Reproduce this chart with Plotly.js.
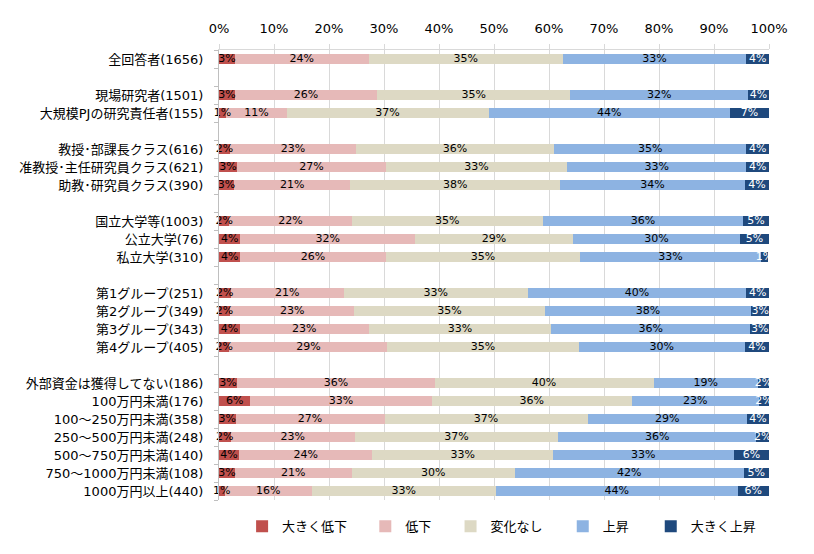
<!DOCTYPE html>
<html>
<head>
<meta charset="utf-8">
<script src="https://cdn.plot.ly/plotly-3.0.1.min.js"></script>
<style>html,body{margin:0;padding:0;background:#fff;}#chart{width:814px;height:554px;}</style>
</head>
<body>
<div id="chart"></div>
<script>
// Category groups (a blank row separates each group)
const groups = [
  ['全回答者(1656)'],
  ['現場研究者(1501)', '大規模PJの研究責任者(155)'],
  ['教授･部課長クラス(616)', '准教授･主任研究員クラス(621)', '助教･研究員クラス(390)'],
  ['国立大学等(1003)', '公立大学(76)', '私立大学(310)'],
  ['第1グループ(251)', '第2グループ(349)', '第3グループ(343)', '第4グループ(405)'],
  ['外部資金は獲得してない(186)', '100万円未満(176)', '100～250万円未満(358)', '250～500万円未満(248)',
   '500～750万円未満(140)', '750～1000万円未満(108)', '1000万円以上(440)']
];

const seriesNames = ['大きく低下', '低下', '変化なし', '上昇', '大きく上昇'];

// Values (%) per category, in the order of the flattened groups
const bigDown = [2.9, 2.9, 1.3, 2.0, 3.3, 2.7, 1.9, 3.9, 3.9, 2.1, 2.0, 3.8, 1.9, 3.3, 5.7, 3.0, 2.1, 3.6, 2.9, 1.0];
const down    = [24.3, 25.8, 11.0, 22.9, 27.0, 21.2, 22.2, 31.7, 26.4, 20.6, 22.6, 23.4, 28.7, 35.9, 33.0, 27.1, 22.6, 24.3, 21.2, 15.9];
const noChange= [35.3, 35.2, 36.7, 36.0, 33.0, 38.1, 34.8, 28.8, 35.4, 33.4, 34.6, 33.2, 34.8, 39.8, 36.3, 36.9, 37.0, 32.8, 29.7, 33.4];
const up      = [33.4, 32.3, 43.9, 35.0, 32.6, 33.6, 36.4, 30.3, 32.8, 39.8, 37.6, 36.2, 30.2, 19.0, 23.2, 29.0, 36.0, 32.9, 41.6, 44.0];
const bigUp   = [4.1, 3.8, 7.1, 4.1, 4.1, 4.4, 4.7, 5.3, 1.4, 4.1, 3.2, 3.4, 4.4, 2.0, 1.8, 4.0, 2.3, 6.4, 4.6, 5.7];

const xTickVals = [0, 10, 20, 30, 40, 50, 60, 70, 80, 90, 100];

const colors = ['#C0504D', '#E6B9B8', '#DDD9C4', '#8DB3E2', '#1F497D'];
const textColors = ['#000000', '#000000', '#000000', '#000000', '#FFFFFF'];
const legendX = [0.042, 0.266, 0.421, 0.625, 0.785];

// Build row positions with a blank row between groups
const categories = [];
const positions = [];
let pos = 0;
groups.forEach((g, gi) => {
  if (gi > 0) pos += 1;
  g.forEach(c => { categories.push(c); positions.push(pos); pos += 1; });
});
const nRows = pos;

const seriesValues = [bigDown, down, noChange, up, bigUp];
const cjkFont = '"Noto Sans CJK JP", "Noto Sans", sans-serif';
const mixFont = '"DejaVu Sans", "Noto Sans CJK JP", sans-serif';

const legendKeys = ['legend', 'legend2', 'legend3', 'legend4', 'legend5'];

const barTraces = seriesValues.map((vals, i) => ({
  type: 'bar',
  orientation: 'h',
  name: seriesNames[i],
  legend: legendKeys[i],
  x: vals,
  y: positions,
  marker: {color: colors[i], line: {width: 0}},
  textposition: 'none',
  hoverinfo: 'skip'
}));

// Segment labels, centred on each stacked segment
const labelTraces = seriesValues.map((vals, i) => {
  const mids = vals.map((v, j) => {
    let start = 0;
    for (let k = 0; k < i; k++) start += seriesValues[k][j];
    return start + v / 2;
  });
  return {
    type: 'scatter',
    mode: 'text',
    x: mids,
    y: positions,
    text: vals.map(v => Math.round(v) + '%'),
    textposition: 'middle center',
    textfont: {family: mixFont, size: 11, color: textColors[i]},
    showlegend: false,
    hoverinfo: 'skip',
    cliponaxis: false
  };
});

const layout = {
  width: 814,
  height: 554,
  margin: {l: 219, r: 45, t: 50, b: 54},
  paper_bgcolor: '#ffffff',
  plot_bgcolor: '#ffffff',
  barmode: 'stack',
  bargap: 0.42,
  font: {family: cjkFont, size: 13, color: '#000000'},
  showlegend: true,
  xaxis: {
    side: 'top',
    range: [0, 100],
    tickmode: 'array',
    tickvals: xTickVals,
    ticktext: xTickVals.map(v => v + '%'),
    showgrid: true,
    gridcolor: '#D9D9D9',
    gridwidth: 1,
    zeroline: false,
    showline: true,
    linecolor: '#D9D9D9',
    ticks: 'outside',
    ticklen: 5,
    tickcolor: '#D9D9D9',
    ticklabelstandoff: 6,
    tickfont: {family: mixFont, size: 13, color: '#000000'},
    fixedrange: true
  },
  yaxis: {
    range: [nRows - 0.5, -0.5],
    tickmode: 'array',
    tickvals: positions,
    ticktext: categories,
    showgrid: false,
    zeroline: false,
    showline: true,
    linecolor: '#BFBFBF',
    ticks: '',
    ticklabelstandoff: 12,
    tickfont: {family: mixFont, size: 13, color: '#000000'},
    minor: {tick0: -0.5, dtick: 1, ticks: 'outside', ticklen: 4, tickcolor: '#BFBFBF', showgrid: false},
    fixedrange: true
  }
};

legendKeys.forEach((k, i) => {
  layout[k] = {
    orientation: 'h',
    x: legendX[i], xanchor: 'left',
    y: -0.025, yanchor: 'top',
    itemwidth: 30,
    bgcolor: 'rgba(0,0,0,0)',
    font: {family: cjkFont, size: 13, color: '#000000'}
  };
});

Plotly.newPlot('chart', barTraces.concat(labelTraces), layout, {displayModeBar: false, staticPlot: true});
</script>
</body>
</html>
